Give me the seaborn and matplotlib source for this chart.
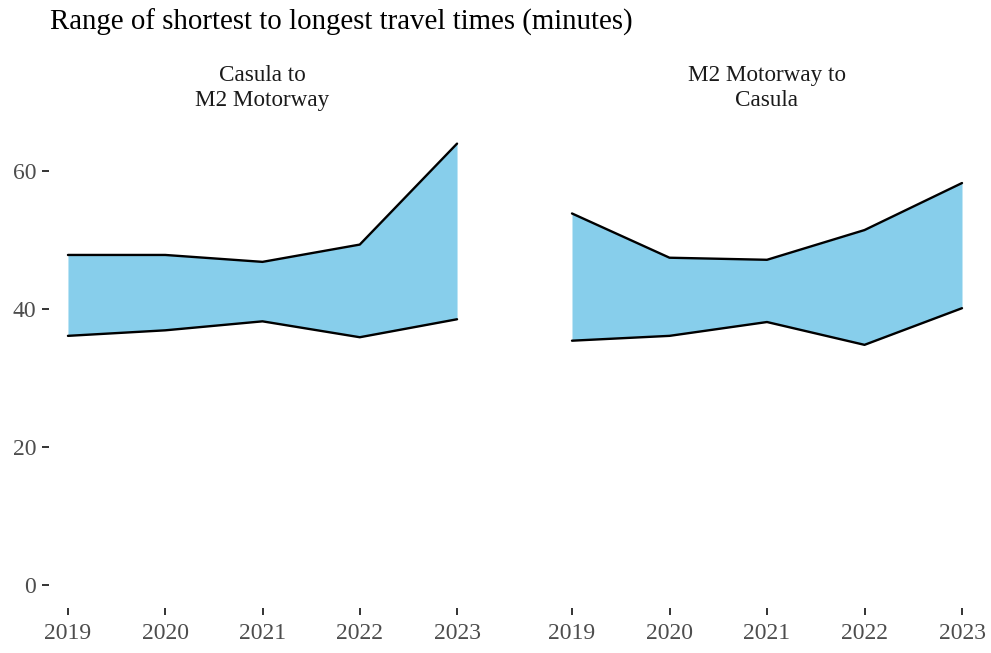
import numpy as np
import pandas as pd
import matplotlib
matplotlib.use("Agg")
import matplotlib.pyplot as plt
import seaborn as sns

years = [2019, 2020, 2021, 2022, 2023]
panels = ["Casula to\nM2 Motorway", "M2 Motorway to\nCasula"]
shortest_a = [36.1, 36.9, 38.2, 35.9, 38.5]
longest_a = [47.8, 47.8, 46.8, 49.3, 63.9]
shortest_b = [35.4, 36.1, 38.1, 34.8, 40.1]
longest_b = [53.8, 47.4, 47.1, 51.4, 58.2]
yticks = [0, 20, 40, 60]
title = "Range of shortest to longest travel times (minutes)"

df = pd.DataFrame({
    "year": years * 2,
    "panel": [panels[0]] * 5 + [panels[1]] * 5,
    "shortest": shortest_a + shortest_b,
    "longest": longest_a + longest_b,
})

sns.set_theme(style="white")
plt.rcParams["font.family"] = ["Liberation Serif", "DejaVu Serif"]

W, H = 991, 653
fig = plt.figure(figsize=(W / 100, H / 100), dpi=100)

ymin = -3.2
ymax = 67.1
xmin, xmax = 2018.8, 2023.2
panel_px = [(48.5, 476.5), (552.5, 981.5)]
top_px, bot_px = 121.5, 607.6

text_grey = "#4D4D4D"
tick_col = "#333333"

for i, p in enumerate(panels):
    l, r = panel_px[i]
    ax = fig.add_axes([l / W, 1 - bot_px / H, (r - l) / W, (bot_px - top_px) / H])
    sub = df[df["panel"] == p]
    ax.fill_between(sub["year"], sub["shortest"], sub["longest"],
                    color="#87CEEB", linewidth=0, zorder=1)
    sns.lineplot(data=sub, x="year", y="longest", color="black", lw=1.7, ax=ax, zorder=2)
    sns.lineplot(data=sub, x="year", y="shortest", color="black", lw=1.7, ax=ax, zorder=2)
    ax.set_xlim(xmin, xmax)
    ax.set_ylim(ymin, ymax)
    ax.set_xticks(years)
    ax.set_xticklabels([str(y) for y in years])
    ax.set_yticks(yticks)
    ax.set_xlabel("")
    ax.set_ylabel("")
    for s in ax.spines.values():
        s.set_visible(False)
    ax.tick_params(axis="x", bottom=True, length=5, width=1.4, color=tick_col,
                   labelsize=17, labelcolor=text_grey, pad=6)
    if i == 0:
        ax.tick_params(axis="y", left=True, length=5, width=1.4, color=tick_col,
                       labelsize=17, labelcolor=text_grey, pad=4)
    else:
        ax.tick_params(axis="y", left=False, labelleft=False)
    ax.grid(False)
    ax.set_facecolor("white")
    fig.text((l + r) / 2 / W, 1 - 88 / H, p, ha="center", va="center",
             fontsize=16.7, color="#1A1A1A", linespacing=1.3)

fig.text(50 / W, 1 - 22 / H, title, ha="left", va="center", fontsize=20.8, color="black")

fig.savefig("out.png", dpi=100, facecolor="white")
